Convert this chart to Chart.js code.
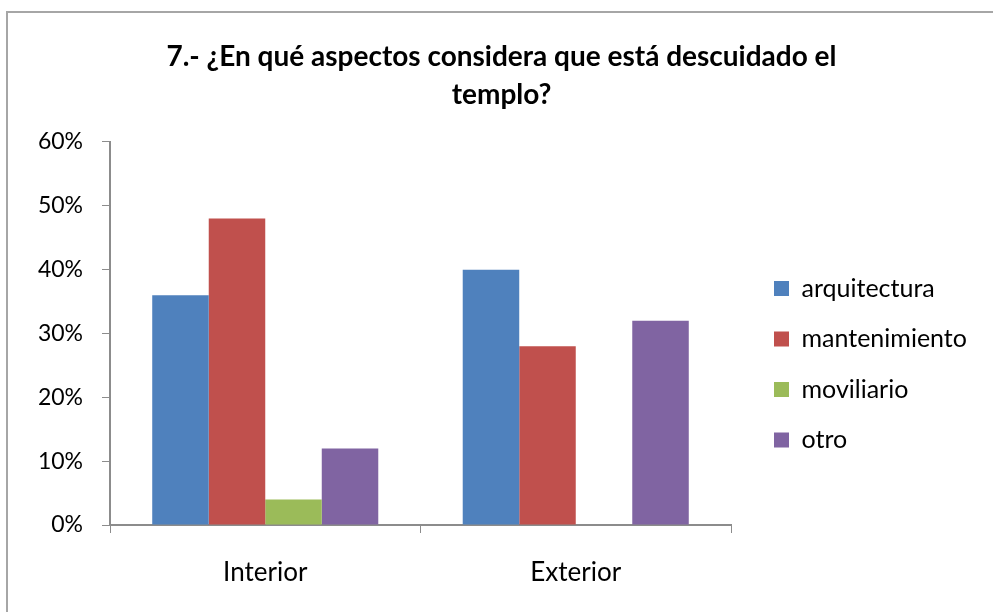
<!DOCTYPE html>
<html>
<head>
<meta charset="utf-8">
<script src="https://cdn.jsdelivr.net/npm/chart.js@4"></script>
<style>
  html, body { margin: 0; padding: 0; background: #fff; }
  #wrap { position: relative; width: 993px; height: 612px; overflow: hidden; }
  #frame { position: absolute; left: 6px; top: 11px; width: 1100px; height: 700px; border: 2px solid #a6a6a6; box-sizing: border-box; }
  canvas { position: absolute; left: 0; top: 0; }
</style>
</head>
<body>
<div id="wrap">
  <div id="frame"></div>
  <canvas id="c" width="993" height="612"></canvas>
</div>
<script>
const titleLines = ['7.- ¿En qué aspectos considera que está descuidado el', 'templo?'];
const categories = ['Interior', 'Exterior'];
const seriesNames = ['arquitectura', 'mantenimiento', 'moviliario', 'otro'];
const arquitectura = [36, 40];
const mantenimiento = [48, 28];
const moviliario = [4, 0];
const otro = [12, 32];
const seriesColors = ['#4F81BD', '#C0504D', '#9BBB59', '#8064A2'];
const yTicks = [0, 10, 20, 30, 40, 50, 60];

const FONT = 'Lato, "Open Sans", sans-serif';
const axisColor = '#8c8c8c';
const seriesValues = [arquitectura, mantenimiento, moviliario, otro];

// place legend and title boxes after Chart.js has computed the layout
const layoutTweak = {
  id: 'layoutTweak',
  afterLayout(chart) {
    const lg = chart.legend;
    if (lg) { lg.left = 748.5; lg.right = 993; lg.width = lg.right - lg.left; }
    const tb = chart.titleBlock;
    if (tb) { tb.left = 10; tb.right = 993; tb.width = tb.right - tb.left; }
  }
};

new Chart(document.getElementById('c'), {
  type: 'bar',
  data: {
    labels: categories,
    datasets: seriesNames.map((name, i) => ({
      label: name,
      data: seriesValues[i],
      backgroundColor: seriesColors[i],
      borderWidth: 0,
      categoryPercentage: 0.728,
      barPercentage: 1.0
    }))
  },
  plugins: [layoutTweak],
  options: {
    responsive: false,
    animation: false,
    devicePixelRatio: 1,
    layout: { padding: { left: 0, top: 0, right: 112, bottom: 0 } },
    plugins: {
      title: {
        display: true,
        text: titleLines,
        color: '#000',
        font: { family: FONT, size: 28, weight: 'bold', lineHeight: 1.357 },
        padding: { top: 38, bottom: 28 }
      },
      legend: {
        display: true,
        position: 'right',
        align: 'start',
        maxWidth: 150,
        title: { display: true, text: ' ', font: { size: 10, lineHeight: 1 }, padding: { top: 240.5, bottom: 0 } },
        labels: {
          boxWidth: 15,
          boxHeight: 15,
          padding: 25.5,
          color: '#000',
          font: { family: FONT, size: 25 }
        }
      },
      tooltip: { enabled: false }
    },
    scales: {
      x: {
        grid: { display: true, drawOnChartArea: false, drawTicks: true, tickLength: 8, color: axisColor, offset: true },
        border: { display: true, color: axisColor, width: 2 },
        ticks: { color: '#000', font: { family: FONT, size: 26 }, padding: 24.4 },
        afterFit: (s) => { s.height = 87; }
      },
      y: {
        min: 0,
        max: 60,
        afterBuildTicks: (s) => { s.ticks = yTicks.map(v => ({ value: v })); },
        grid: { display: true, drawOnChartArea: false, drawTicks: true, tickLength: 8, color: axisColor },
        border: { display: true, color: axisColor, width: 2 },
        ticks: { color: '#000', font: { family: FONT, size: 23 }, padding: 19, callback: (v) => v + '%' },
        afterFit: (s) => { s.width = 110; }
      }
    }
  }
});
</script>
</body>
</html>
